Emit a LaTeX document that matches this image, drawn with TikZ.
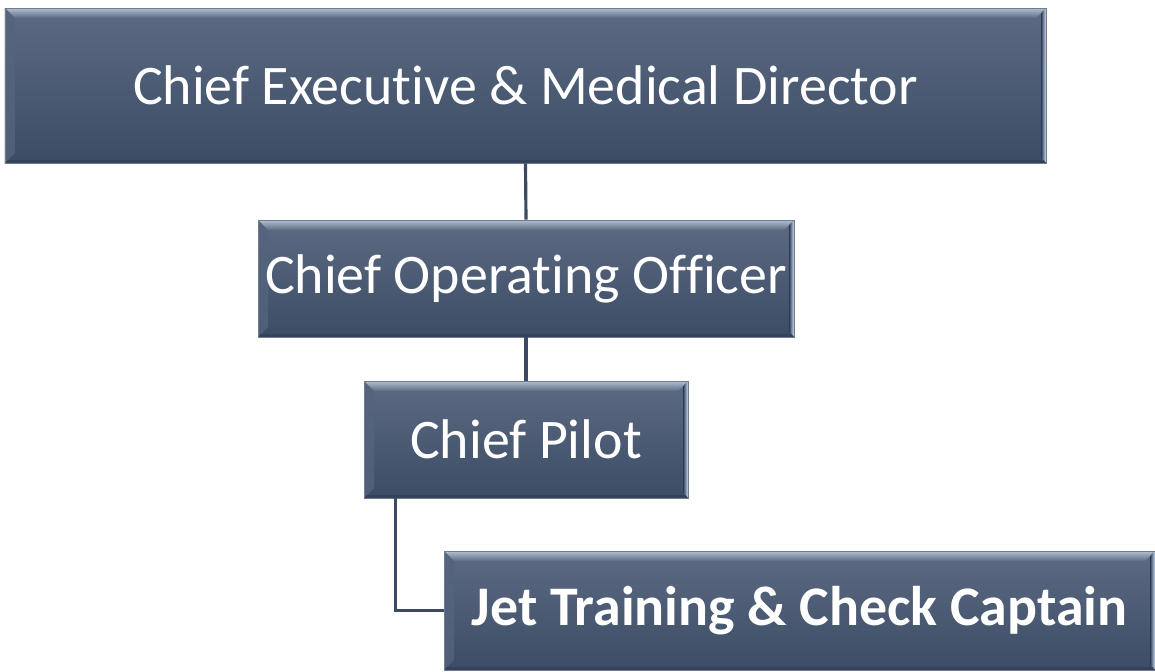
\documentclass[tikz,border=0pt]{standalone}
\usepackage{fontspec}
\setmainfont{Carlito}[Ligatures=NoCommon]
\usetikzlibrary{calc}
\definecolor{slatetop}{RGB}{92, 107, 130}
\definecolor{slatebottom}{RGB}{60, 76, 101}
\definecolor{slateline}{RGB}{59, 73, 97}
\definecolor{bevellight}{RGB}{178, 192, 210}
\definecolor{bevelright}{RGB}{205, 222, 242}
\definecolor{bevelleft}{RGB}{84, 100, 124}
\definecolor{beveldark}{RGB}{52, 66, 90}
\definecolor{rim}{RGB}{110, 124, 142}

\tikzset{
    rolebox/.style={
        rectangle, inner sep=0pt, text=white,
        font=\fontsize{31.8}{36}\selectfont,
        top color=slatetop, bottom color=slatebottom,
        draw=rim, line width=0.4pt,
        path picture={
            \coordinate (nw) at (path picture bounding box.north west);
            \coordinate (ne) at (path picture bounding box.north east);
            \coordinate (sw) at (path picture bounding box.south west);
            \coordinate (se) at (path picture bounding box.south east);
            % bevel faces
            \shade[top color=bevellight, bottom color=slatetop] (nw) -- (ne) -- ($(ne)+(-0.2,-0.2)$) -- ($(nw)+(0.2,-0.2)$) -- cycle;
            \fill[bevelleft, opacity=0.8] (nw) -- ($(nw)+(0.2,-0.2)$) -- ($(sw)+(0.2,0.2)$) -- (sw) -- cycle;
            \shade[left color=slatebottom, right color=bevelright] (ne) -- (se) -- ($(se)+(-0.09,0.09)$) -- ($(ne)+(-0.09,-0.09)$) -- cycle;
            \fill[beveldark] (sw) -- (se) -- ($(se)+(-0.06,0.06)$) -- ($(sw)+(0.06,0.06)$) -- cycle;
        }
    },
    link/.style={draw=slateline, line width=1.8pt}
}

\begin{document}
\begin{tikzpicture}
    \useasboundingbox (0,0) rectangle (23.1,-13.42);

    \node[rolebox, minimum width=20.82cm, minimum height=3.1cm] (ceo) at (10.51,-1.71) {Chief Executive \& Medical Director};
    \node[rolebox, minimum width=10.72cm, minimum height=2.34cm] (coo) at (10.52,-5.57) {Chief Operating Officer};
    \node[rolebox, minimum width=6.48cm, minimum height=2.34cm] (pilot) at (10.52,-8.79) {Chief Pilot};
    \node[rolebox, minimum width=14.22cm, minimum height=2.38cm, font=\fontsize{31.8}{36}\selectfont\bfseries] (jet) at (15.99,-12.21) {Jet Training \& Check Captain};

    % reporting lines
    \draw[link] (ceo.south) -- (coo.north);
    \draw[link] (coo.south) -- (pilot.north);
    \draw[link] ($(pilot.south west)+(0.64,0)$) |- (jet.west);
\end{tikzpicture}
\end{document}
